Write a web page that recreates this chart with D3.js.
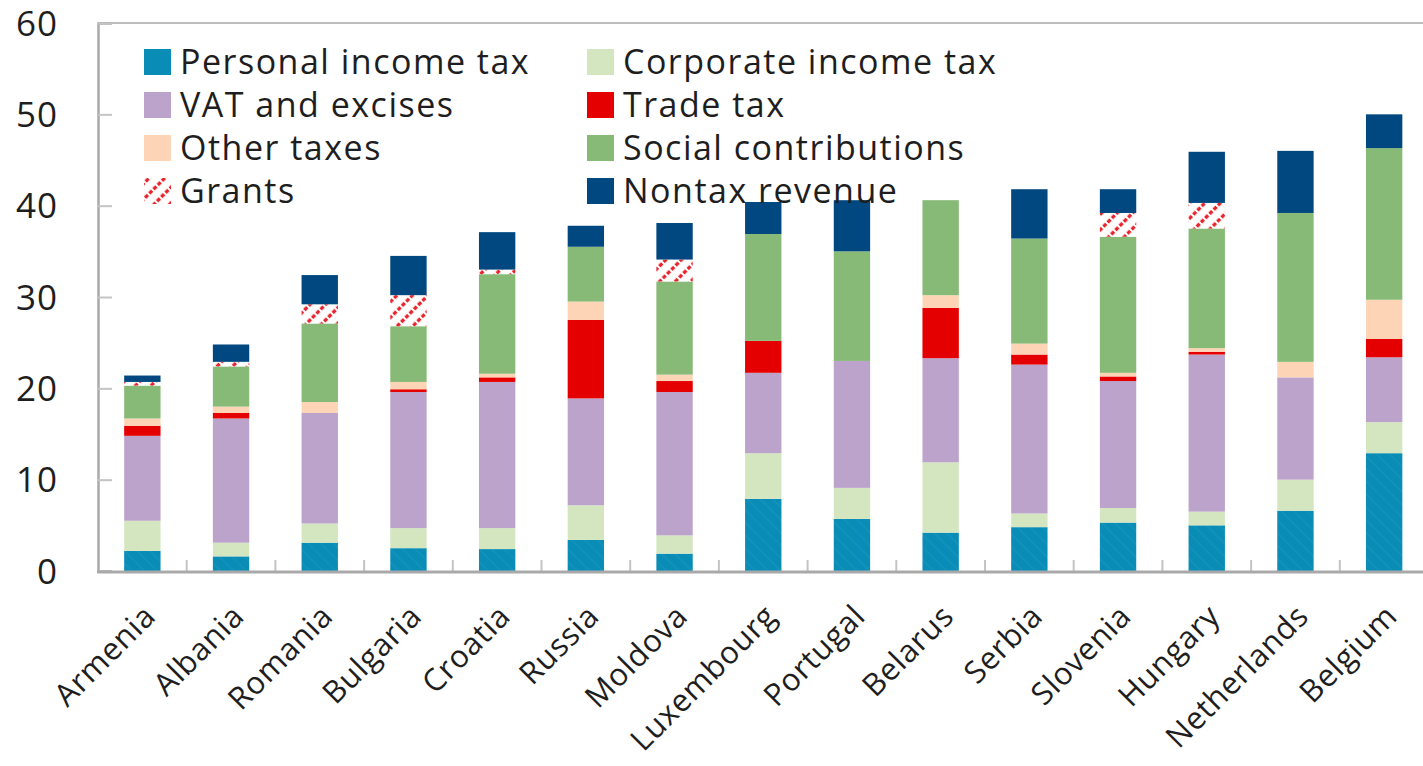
<!DOCTYPE html>
<html>
<head>
<meta charset="utf-8">
<script src="https://cdn.jsdelivr.net/npm/d3@7/dist/d3.min.js"></script>
<style>
  html, body { margin: 0; padding: 0; background: #fff; }
  svg { display: block; font-family: "Open Sans", "Noto Sans", sans-serif; }
</style>
</head>
<body>
<svg id="chart" width="1423" height="766"></svg>
<script>
// Revenue composition, percent of GDP
const categories = ["Armenia", "Albania", "Romania", "Bulgaria", "Croatia", "Russia", "Moldova",
  "Luxembourg", "Portugal", "Belarus", "Serbia", "Slovenia", "Hungary", "Netherlands", "Belgium"];

const personalIncome  = [2.2, 1.6, 3.1, 2.5, 2.4, 3.4, 1.9, 7.9, 5.7, 4.2, 4.8, 5.3, 5.0, 6.6, 12.9];
const corporateIncome = [3.3, 1.5, 2.1, 2.2, 2.3, 3.8, 2.0, 5.0, 3.4, 7.7, 1.5, 1.6, 1.5, 3.4, 3.4];
const vatExcises      = [9.3, 13.6, 12.1, 14.9, 16.0, 11.7, 15.7, 8.8, 13.9, 11.4, 16.3, 13.9, 17.2, 11.2, 7.1];
const tradeTax        = [1.1, 0.6, 0.0, 0.3, 0.5, 8.6, 1.2, 3.5, 0.0, 5.5, 1.1, 0.5, 0.3, 0.0, 2.0];
const otherTaxes      = [0.8, 0.7, 1.2, 0.8, 0.4, 2.0, 0.7, 0.0, 0.0, 1.4, 1.2, 0.4, 0.4, 1.7, 4.3];
const socialContrib   = [3.6, 4.4, 8.6, 6.1, 10.9, 6.0, 10.2, 11.7, 12.0, 10.4, 11.5, 14.9, 13.1, 16.3, 16.6];
const grants          = [0.4, 0.5, 2.1, 3.4, 0.5, 0.0, 2.4, 0.0, 0.0, 0.0, 0.0, 2.6, 2.8, 0.0, 0.0];
const nontaxRevenue   = [0.7, 1.9, 3.2, 4.3, 4.1, 2.3, 4.0, 3.5, 5.6, 0.0, 5.4, 2.6, 5.6, 6.8, 3.7];

const yTicks = [0, 10, 20, 30, 40, 50, 60];

const seriesNames = ["Personal income tax", "Corporate income tax", "VAT and excises", "Trade tax",
  "Other taxes", "Social contributions", "Grants", "Nontax revenue"];
const seriesValues = [personalIncome, corporateIncome, vatExcises, tradeTax,
  otherTaxes, socialContrib, grants, nontaxRevenue];
const seriesFills = ["url(#pitFill)", "#d4e6c0", "#bca3cb", "#e40000",
  "#fdd5b6", "#87ba76", "url(#grantHatch)", "#00487f"];

const svg = d3.select("#chart");

// fill patterns
const defs = svg.append("defs");
const pit = defs.append("pattern")
  .attr("id", "pitFill").attr("patternUnits", "userSpaceOnUse")
  .attr("width", 9).attr("height", 9)
  .attr("patternTransform", "rotate(-45)");
pit.append("rect").attr("width", 9).attr("height", 9).attr("fill", "#098db6");
pit.append("line").attr("x1", 4.5).attr("x2", 4.5).attr("y1", 0).attr("y2", 9)
  .attr("stroke", "#1593bb").attr("stroke-width", 1.2);

const hatch = defs.append("pattern")
  .attr("id", "grantHatch").attr("patternUnits", "userSpaceOnUse")
  .attr("width", 11).attr("height", 12)
  .attr("patternTransform", "rotate(45)");
hatch.append("rect").attr("width", 11).attr("height", 12).attr("fill", "#fff");
hatch.append("line").attr("x1", 5.5).attr("x2", 5.5).attr("y1", 0).attr("y2", 12)
  .attr("stroke", "#e8242c").attr("stroke-width", 3.4).attr("stroke-dasharray", "4 2");

// stacked layout
const table = categories.map((c, i) => {
  const row = { country: c };
  seriesNames.forEach((s, k) => { row[s] = seriesValues[k][i]; });
  return row;
});
const stacked = d3.stack().keys(seriesNames)(table);

const plot = { left: 98, right: 1428.5, top: 23, bottom: 571 };

const x = d3.scaleBand()
  .domain(categories)
  .range([plot.left, plot.right])
  .paddingInner(0.59)
  .paddingOuter(0.295);

const y = d3.scaleLinear().domain([0, 60]).range([plot.bottom, plot.top]);

// bars
const layers = svg.append("g").selectAll("g")
  .data(stacked).join("g")
  .attr("fill", (d, k) => seriesFills[k]);

layers.selectAll("rect")
  .data(d => d.filter(p => p[1] - p[0] > 0))
  .join("rect")
  .attr("x", p => x(p.data.country))
  .attr("width", x.bandwidth())
  .attr("y", p => y(p[1]))
  .attr("height", p => y(p[0]) - y(p[1]));

// frame top
svg.append("line")
  .attr("x1", plot.left).attr("x2", 1423)
  .attr("y1", plot.top).attr("y2", plot.top)
  .attr("stroke", "#bdbdbd").attr("stroke-width", 2);

// y axis
const yAxis = svg.append("g")
  .attr("transform", `translate(${plot.left},0)`)
  .call(d3.axisRight(y).tickValues(yTicks).tickSize(14).tickFormat(""));
yAxis.select(".domain").attr("stroke", "#a9a9a9").attr("stroke-width", 2.5);
yAxis.selectAll(".tick line").attr("stroke", "#c4c4c4").attr("stroke-width", 2);

svg.append("g").selectAll("text")
  .data(yTicks).join("text")
  .attr("x", 58)
  .attr("y", d => y(d))
  .attr("dy", "0.36em")
  .attr("text-anchor", "end")
  .attr("font-size", 35)
  .attr("letter-spacing", 1)
  .attr("fill", "#1e1e1e")
  .text(d => d);

// x axis: baseline with separators between bands
const step = x.step();
svg.append("g").selectAll("line")
  .data(categories.slice(1)).join("line")
  .attr("x1", d => x(d) - (step - x.bandwidth()) / 2)
  .attr("x2", d => x(d) - (step - x.bandwidth()) / 2)
  .attr("y1", plot.bottom)
  .attr("y2", plot.bottom - 11)
  .attr("stroke", "#c4c4c4").attr("stroke-width", 2);

svg.append("line")
  .attr("x1", plot.left - 1).attr("x2", 1423)
  .attr("y1", plot.bottom + 1).attr("y2", plot.bottom + 1)
  .attr("stroke", "#a9a9a9").attr("stroke-width", 3);

svg.append("g").selectAll("text")
  .data(categories).join("text")
  .attr("transform", d => `translate(${x(d) + x.bandwidth() / 2 + 15},618) rotate(-45)`)
  .attr("text-anchor", "end")
  .attr("font-size", 31)
  .attr("letter-spacing", 0.7)
  .attr("fill", "#1e1e1e")
  .text(d => d);

// legend, two columns
const legendCols = [144, 587];
const legendRows = [62, 105, 148, 191];
const legend = svg.append("g").selectAll("g")
  .data(seriesNames).join("g")
  .attr("transform", (d, k) => `translate(${legendCols[k % 2]},${legendRows[Math.floor(k / 2)]})`);
legend.append("rect")
  .attr("x", 0).attr("y", -13)
  .attr("width", 27).attr("height", 26)
  .attr("fill", (d, k) => seriesFills[k] === "url(#pitFill)" ? "#098db6" : seriesFills[k]);
legend.append("text")
  .attr("x", 36).attr("y", 0).attr("dy", "0.36em")
  .attr("font-size", 34)
  .attr("letter-spacing", 1.5)
  .attr("fill", "#1e1e1e")
  .text(d => d);
</script>
</body>
</html>
